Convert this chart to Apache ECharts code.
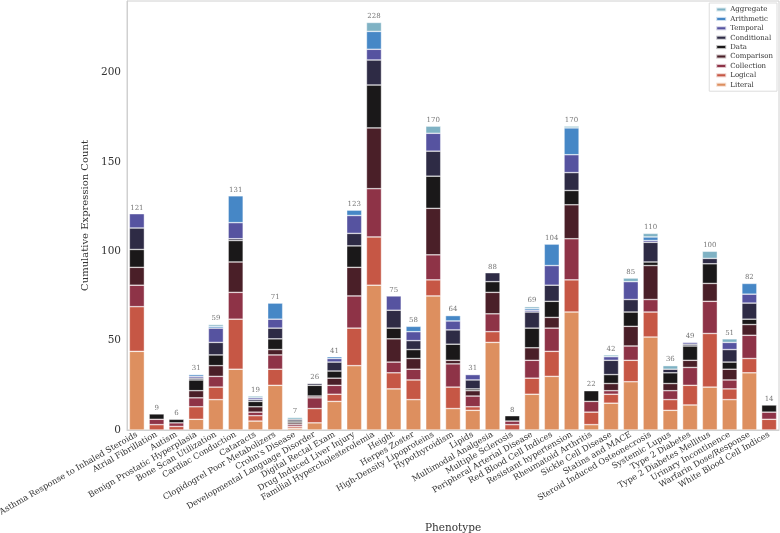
<!DOCTYPE html>
<html><head><meta charset="utf-8">
<script src="https://cdn.jsdelivr.net/npm/echarts@6/dist/echarts.min.js"></script>
<style>html,body{margin:0;padding:0;background:#fff}#c{width:780px;height:533px}</style>
</head><body><div id="c"></div>
<script>
const categories = ["Asthma Response to Inhaled Steroids","Atrial Fibrillation","Autism","Benign Prostatic Hyperplasia","Bone Scan Utilization","Cardiac Conduction","Cataracts","Clopidogrel Poor Metabolizers","Crohn's Disease","Developmental Language Disorder","Digital Rectal Exam","Drug Induced Liver Injury","Familial Hypercholesterolemia","Height","Herpes Zoster","High-Density Lipoproteins","Hypothyroidism","Lipids","Multimodal Analgesia","Multiple Sclerosis","Peripheral Arterial Disease","Red Blood Cell Indices","Resistant hypertension","Rheumatoid Arthritis","Sickle Cell Disease","Statins and MACE","Steroid Induced Osteonecrosis","Systemic Lupus","Type 2 Diabetes","Type 2 Diabetes Mellitus","Urinary Incontinence","Warfarin Dose/Response","White Blood Cell Indices"];
const literal     = [44,0,0,6,17,34,5,25,1,4,16,36,81,23,17,75,12,11,49,0,20,30,66,3,15,27,52,11,14,24,17,32,0];
const logical     = [25,3,2,7,7,28,3,9,1,8,4,21,27,9,11,9,12,2,6,3,9,14,18,7,5,12,14,6,11,30,6,8,6];
const collection  = [12,3,2,5,6,15,2,8,1,6,5,18,27,6,6,14,13,6,10,2,10,13,23,6,2,8,7,5,10,18,5,13,4];
const comparison  = [10,0,0,4,6,17,3,3,1,1,4,16,34,13,6,26,2,3,12,0,7,6,19,0,4,11,19,4,4,10,6,6,0];
const dataType    = [10,3,2,6,6,12,3,6,1,6,4,12,24,6,5,18,9,1,6,3,11,9,8,6,5,8,2,6,8,11,4,3,4];
const conditional = [12,0,0,1,7,1,1,6,1,1,5,7,14,10,5,14,8,5,5,0,9,9,10,0,8,7,11,2,1,3,7,9,0];
const temporal    = [8,0,0,1,8,9,1,5,0,0,2,10,6,8,5,10,5,3,0,0,1,11,10,0,2,10,1,0,1,0,4,5,0];
const arithmetic  = [0,0,0,1,1,15,0,9,0,0,1,3,10,0,3,0,3,0,0,0,1,12,15,0,0,0,2,0,0,0,0,6,0];
const aggregate   = [0,0,0,0,1,0,1,0,1,0,0,0,5,0,0,4,0,0,0,0,1,0,1,0,1,2,2,2,0,4,2,0,0];
const yTicks = [0,50,100,150,200];

const seriesDefs = [
  ["Literal", literal, "#dd8f5f"],
  ["Logical", logical, "#c65745"],
  ["Collection", collection, "#8e3347"],
  ["Comparison", comparison, "#4a1f28"],
  ["Data", dataType, "#1a1819"],
  ["Conditional", conditional, "#2e2b45"],
  ["Temporal", temporal, "#5653a0"],
  ["Arithmetic", arithmetic, "#4687c6"],
  ["Aggregate", aggregate, "#7fb2c4"]
];
const totals = categories.map((_, i) => seriesDefs.reduce((s, d) => s + d[1][i], 0));
const F = "DejaVu Serif";
const chart = echarts.init(document.getElementById('c'), null, {renderer: 'canvas'});
const series = seriesDefs.map(([name, vals, color]) => ({
  name, type: 'bar', stack: 'total', barCategoryGap: '24%',
  data: vals.map(v => v === 0 ? '-' : v),
  itemStyle: {color, borderColor: 'rgba(255,255,255,0.7)', borderWidth: 0.6},
  emphasis: {disabled: true}
}));
series.push({
  name: 'total', type: 'line', data: totals, symbol: 'circle', symbolSize: 1, showSymbol: true,
  itemStyle: {color: 'rgba(0,0,0,0)'},
  lineStyle: {width: 0, opacity: 0}, silent: true, z: 10,
  label: {show: true, position: 'top', distance: 2, color: '#777', fontSize: 7, fontFamily: F}
});
chart.setOption({
  animation: false,
  backgroundColor: '#fff',
  grid: {left: 127, right: 1, top: 1, bottom: 103, show: true, borderColor: '#d0d0d0', borderWidth: 1,
    containLabel: false, outerBoundsMode: 'none'},
  legend: {
    data: seriesDefs.map(d => d[0]).reverse(),
    orient: 'vertical', right: 3, top: 3,
    itemWidth: 10, itemHeight: 4, itemGap: 2.4,
    backgroundColor: '#fff', borderColor: '#ddd', borderWidth: 1, padding: [3, 4, 3, 6],
    textStyle: {fontFamily: F, fontSize: 7, color: '#333', padding: [0,0,0,-1]},
    icon: 'rect'
  },
  xAxis: {
    type: 'category', data: categories,
    name: 'Phenotype', nameLocation: 'middle', nameGap: 66,
    nameTextStyle: {fontFamily: F, fontSize: 10.5, color: '#333'},
    axisLine: {lineStyle: {color: '#d0d0d0'}}, axisTick: {show: false},
    axisLabel: {interval: 0, rotate: 30, fontFamily: F, fontSize: 8.3, color: '#333', margin: 4}
  },
  yAxis: {
    type: 'value', min: 0, max: 240, interval: 50,
    name: 'Cumulative Expression Count', nameLocation: 'middle', nameGap: 28,
    nameTextStyle: {fontFamily: F, fontSize: 10, color: '#333'},
    axisLine: {show: true, lineStyle: {color: '#d0d0d0'}}, axisTick: {show: false},
    splitLine: {show: false},
    axisLabel: {fontFamily: F, fontSize: 10.5, color: '#333', margin: 6, showMaxLabel: false,
      formatter: v => yTicks.includes(v) ? String(v) : ''}
  },
  series
});
</script></body></html>
